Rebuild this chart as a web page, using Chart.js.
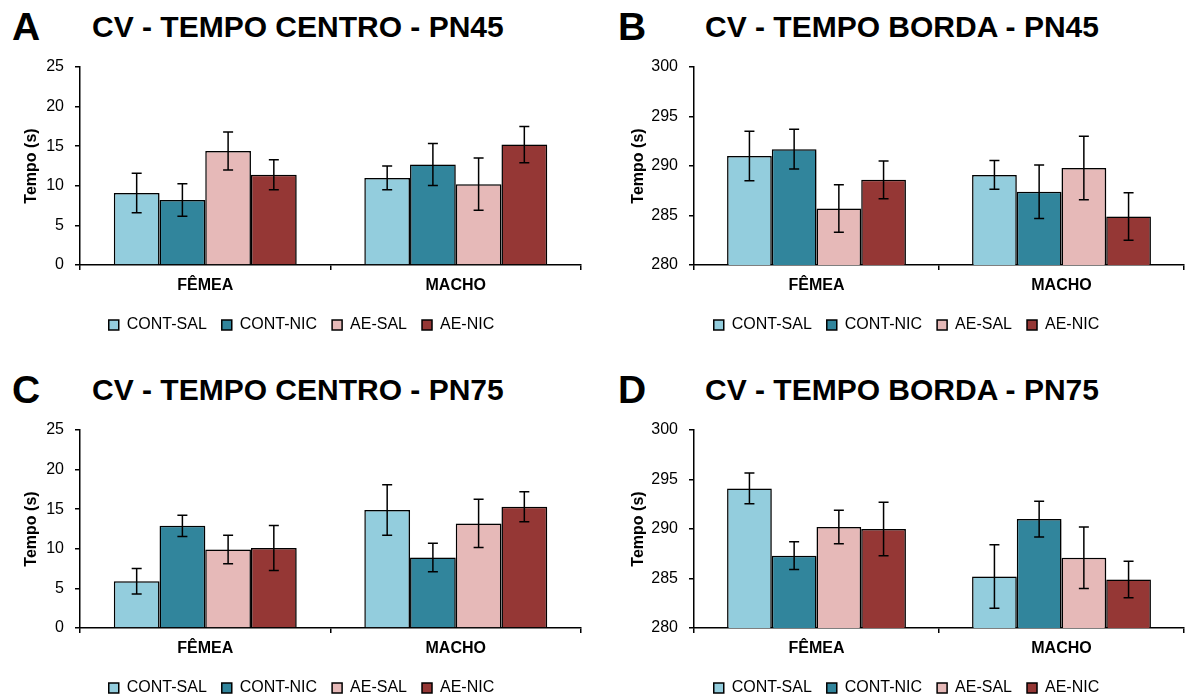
<!DOCTYPE html>
<html>
<head>
<meta charset="utf-8">
<script src="https://cdn.jsdelivr.net/npm/chart.js@4/dist/chart.umd.min.js"></script>
<style>
	body { margin: 0; width: 1187px; height: 700px; overflow: hidden; background: #fff; font-family: "Liberation Sans", Arial, sans-serif; }
	.panel { position: absolute; width: 595px; height: 363px; }
	.letter { position: absolute; font-weight: bold; font-size: 39px; line-height: 40px; color: #000; }
	.title { position: absolute; font-weight: bold; font-size: 30px; line-height: 30px; color: #000; white-space: nowrap; }
	canvas { position: absolute; top: 40px; }
</style>
</head>
<body>
<div class="panel" style="left:0;top:0">
	<div class="letter" style="left:12px;top:7px">A</div>
	<div class="title" style="left:92px;top:12px">CV - TEMPO CENTRO - PN45</div>
	<canvas id="chartA" width="595" height="320" style="left:0"></canvas>
</div>
<div class="panel" style="left:600px;top:0">
	<div class="letter" style="left:18px;top:7px">B</div>
	<div class="title" style="left:105px;top:12px">CV - TEMPO BORDA - PN45</div>
	<canvas id="chartB" width="587" height="320" style="left:0"></canvas>
</div>
<div class="panel" style="left:0;top:363px">
	<div class="letter" style="left:12px;top:7px">C</div>
	<div class="title" style="left:92px;top:12px">CV - TEMPO CENTRO - PN75</div>
	<canvas id="chartC" width="595" height="320" style="left:0"></canvas>
</div>
<div class="panel" style="left:600px;top:363px">
	<div class="letter" style="left:18px;top:7px">D</div>
	<div class="title" style="left:105px;top:12px">CV - TEMPO BORDA - PN75</div>
	<canvas id="chartD" width="587" height="320" style="left:0"></canvas>
</div>
<script>
(function () {
	'use strict';

	var groups = ['FÊMEA', 'MACHO'];
	var seriesNames = ['CONT-SAL', 'CONT-NIC', 'AE-SAL', 'AE-NIC'];
	var seriesColors = ['#93CDDD', '#31859C', '#E6B9B8', '#953735'];

	// one row per series: [FÊMEA, MACHO]
	var centroPN45 = [[9.1, 11.0], [8.2, 12.7], [14.4, 10.2], [11.4, 15.2]];
	var centroPN45Err = [[2.5, 1.5], [2.05, 2.65], [2.4, 3.3], [1.9, 2.3]];
	var bordaPN45 = [[291.0, 289.1], [291.7, 287.4], [285.7, 289.8], [288.6, 284.9]];
	var bordaPN45Err = [[2.5, 1.45], [2.0, 2.7], [2.4, 3.2], [1.9, 2.4]];
	var centroPN75 = [[5.9, 14.9], [12.9, 8.9], [9.9, 13.2], [10.1, 15.3]];
	var centroPN75Err = [[1.6, 3.2], [1.35, 1.8], [1.8, 3.05], [2.85, 1.9]];
	var bordaPN75 = [[294.1, 285.2], [287.3, 291.0], [290.2, 287.1], [290.0, 284.9]];
	var bordaPN75Err = [[1.55, 3.2], [1.4, 1.8], [1.7, 3.1], [2.7, 1.85]];

	var font = '"Liberation Sans", Arial, sans-serif';

	var barExtras = {
		id: 'barExtras',
		beforeDatasetsDraw: function (chart) {
			var ctx = chart.ctx;
			ctx.save();
			ctx.shadowColor = 'rgba(0,0,0,0.3)';
			ctx.shadowBlur = 3;
			ctx.shadowOffsetX = 2;
			ctx.shadowOffsetY = 1;
		},
		afterDatasetsDraw: function (chart) {
			var ctx = chart.ctx;
			var y = chart.scales.y;
			ctx.restore();
			ctx.save();
			ctx.strokeStyle = '#000';
			ctx.lineWidth = 1.5;
			chart.data.datasets.forEach(function (ds, i) {
				chart.getDatasetMeta(i).data.forEach(function (bar, j) {
					var top = y.getPixelForValue(ds.data[j] + ds.errors[j]);
					var bot = y.getPixelForValue(ds.data[j] - ds.errors[j]);
					ctx.beginPath();
					ctx.moveTo(bar.x, top); ctx.lineTo(bar.x, bot);
					ctx.moveTo(bar.x - 5, top); ctx.lineTo(bar.x + 5, top);
					ctx.moveTo(bar.x - 5, bot); ctx.lineTo(bar.x + 5, bot);
					ctx.stroke();
				});
			});
			ctx.restore();
		}
	};

	function makePanel(id, means, errs, yMin, yMax, padLeft, axisWidth, titlePad, padRight) {
		new Chart(document.getElementById(id), {
			type: 'bar',
			data: {
				labels: groups,
				datasets: seriesNames.map(function (name, i) {
					return {
						label: name,
						data: means[i],
						errors: errs[i],
						backgroundColor: seriesColors[i],
						borderColor: '#000',
						borderWidth: 1.5,
						categoryPercentage: 0.73,
						barPercentage: 1.0
					};
				})
			},
			options: {
				responsive: false,
				animation: false,
				devicePixelRatio: 1,
				layout: { padding: { left: padLeft, right: padRight, top: 27, bottom: 17 } },
				plugins: {
					tooltip: { enabled: false },
					legend: {
						position: 'bottom',
						labels: {
							boxWidth: 10, boxHeight: 10, padding: 15,
							color: '#000',
							font: { family: font, size: 16 }
						}
					}
				},
				scales: {
					x: {
						grid: { display: true, drawOnChartArea: false, color: '#000', lineWidth: 1.5, tickLength: 5 },
						border: { color: '#000', width: 1.5 },
						ticks: { color: '#000', padding: 6, font: { family: font, size: 16, weight: 'bold' } },
						afterFit: function (s) { s.height = 37; }
					},
					y: {
						min: yMin, max: yMax,
						ticks: { stepSize: 5, color: '#000', padding: 11, font: { family: font, size: 16 } },
						grid: { display: true, drawOnChartArea: false, color: '#000', lineWidth: 1.5, tickLength: 5 },
						border: { color: '#000', width: 1.5 },
						title: {
							display: true, text: 'Tempo (s)', color: '#000',
							padding: { top: titlePad, bottom: 0 },
							font: { family: font, size: 16, weight: 'bold' }
						},
						afterFit: function (s) { s.width = axisWidth; }
					}
				}
			},
			plugins: [barExtras]
		});
	}

	makePanel('chartA', centroPN45, centroPN45Err, 0, 25, 22, 58, 0.4, 14);
	makePanel('chartB', bordaPN45, bordaPN45Err, 280, 300, 29, 65, 0, 3);
	makePanel('chartC', centroPN75, centroPN75Err, 0, 25, 22, 58, 0.4, 14);
	makePanel('chartD', bordaPN75, bordaPN75Err, 280, 300, 29, 65, 0, 3);
})();
</script>
</body>
</html>
